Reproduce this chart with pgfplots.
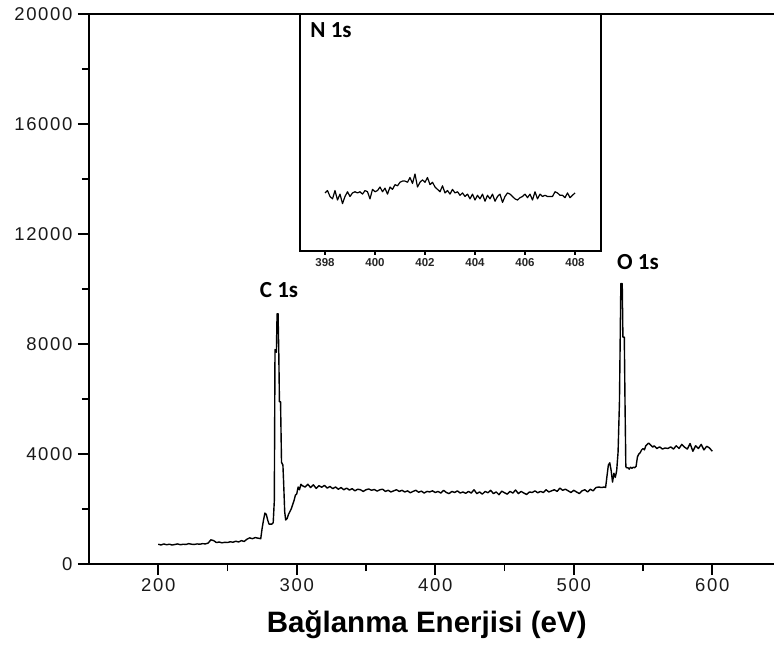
\documentclass[border=0pt]{standalone}
\usepackage{fontspec}
\setmainfont{Liberation Sans}
\newfontfamily\tickfont[LetterSpace=9]{Liberation Sans}
\newfontfamily\calfont{Carlito}
\usepackage{pgfplots}
\pgfplotsset{compat=1.18}
\begin{document}
\begin{tikzpicture}
\useasboundingbox (-89pt,-82pt) rectangle (685pt,564pt);
\begin{axis}[
  at={(0pt,0pt)}, anchor=south west, scale only axis,
  width=695pt, height=550pt,
  xmin=150, xmax=651.8, ymin=0, ymax=20000,
  axis line style={line width=1.8pt},
  every tick/.style={line width=1.8pt, black},
  major tick length=11pt, minor tick length=7pt,
  tick align=outside, xtick pos=bottom, ytick pos=left,
  xtick={200,300,...,600}, minor xtick={250,350,450,550},
  ytick={0,4000,...,20000}, minor ytick={2000,6000,...,18000},
  scaled y ticks=false,
  /pgf/number format/1000 sep={},
  /pgf/number format/assume math mode=true,
  ticklabel style={font=\tickfont\fontsize{18.5}{18.5}\selectfont, color=black!90},
  yticklabel style={xshift=-2pt},
  xlabel={Bağlanma Enerjisi (eV)},
  xlabel style={font=\bfseries\fontsize{29.5}{29.5}\selectfont, at={(axis description cs:0.486,0)}, anchor=center, yshift=-61pt},
]
\addplot[black, line width=1.4pt, line join=round] coordinates {
(200,720) (202,690) (204,730) (206,700) (208,720) (210,690) (212,710) (214,730) (216,700) (218,720)
(220,710) (222,740) (224,720) (226,710) (228,730) (230,720) (232,740) (234,730) (236,760) (238,880)
(240,850) (242,780) (244,800) (246,770) (248,790) (250,780) (252,810) (254,790) (256,830) (258,800)
(260,850) (262,820) (264,900) (266,950) (268,920) (270,960) (272,940) (274,920) (275,1300) (276,1600)
(277,1850) (278,1800) (279,1600) (280,1450) (281,1450) (282,1450) (283,1500) (283.8,2300) (284.3,7800)
(285.3,7700) (285.8,9100) (286.5,9100) (287,7800) (287.5,5900) (288.3,5900) (289,3700) (290,3600)
(290.5,3000) (291.3,1900) (292,1600) (293,1650) (294,1800) (295,1900) (296,2000) (297,2150) (298,2300)
(299,2500) (300,2550) (301,2800) (302,2700) (303,2900)
(304,2850) (306,2800) (308,2900) (310,2780) (312,2880) (314,2750) (316,2850) (318,2790) (320,2860) (322,2760)
(324,2820) (326,2740) (328,2800) (330,2720) (332,2780) (334,2700) (336,2760) (338,2690) (340,2740) (342,2660)
(344,2720) (346,2700) (348,2640) (350,2700) (352,2730) (354,2680) (356,2710) (358,2650) (360,2700) (362,2720)
(364,2640) (366,2680) (368,2620) (370,2660) (372,2700) (374,2640) (376,2680) (378,2620) (380,2660) (382,2590)
(384,2640) (386,2680) (388,2610) (390,2650) (392,2580) (394,2640) (396,2620) (398,2660) (400,2600) (402,2640)
(404,2580) (406,2680) (408,2600) (410,2560) (412,2640) (414,2600) (416,2660) (418,2580) (420,2620) (422,2570)
(424,2640) (426,2580) (428,2700) (430,2560) (432,2620) (434,2540) (436,2640) (438,2590) (440,2680) (442,2560)
(444,2620) (446,2520) (448,2650) (450,2590) (452,2540) (454,2640) (456,2580) (458,2690) (460,2560) (462,2640)
(464,2580) (466,2530) (468,2620) (470,2600) (472,2660) (474,2590) (476,2640) (478,2600) (480,2700) (482,2620)
(484,2660) (486,2700) (488,2640) (490,2760) (492,2680) (494,2720) (496,2660) (498,2600) (500,2680) (502,2620)
(504,2560) (506,2660) (508,2700) (510,2620) (512,2720) (514,2660) (516,2780) (518,2800) (520,2780) (522,2800)
(523,2780) (524,3200) (525,3600) (526,3680) (527,3400) (528,2980) (529,3300) (530,3150) (531,3400) (532,4070)
(533,5900) (534,10200) (535,10200) (535.5,8250) (536.5,8250) (537,5900) (537.6,3550) (538,3500) (539,3500)
(540,3450) (541,3520) (542,3480) (543,3520) (544,3500) (545,3550) (546,3900) (547,4000) (548,4050) (549,4150)
(550,4200) (551,4150) (552,4300) (553,4350) (554,4400) (555,4350) (556,4300) (557,4250) (558,4300) (560,4200)
(562,4260) (564,4180) (566,4220) (568,4200) (570,4260) (572,4180) (574,4300) (576,4200) (578,4350) (580,4250)
(582,4180) (584,4380) (586,4100) (588,4300) (590,4200) (592,4350) (594,4150) (596,4280) (598,4220) (600,4100)
};
\node[font=\calfont\bfseries\fontsize{23}{23}\selectfont] at (axis cs:287.2,9963) {C 1s};
\node[font=\calfont\bfseries\fontsize{23}{23}\selectfont] at (axis cs:546.4,10980) {O 1s};
\end{axis}
\begin{axis}[
  at={(211pt,313pt)}, anchor=south west, scale only axis,
  width=301pt, height=237pt,
  xmin=397, xmax=409.04, ymin=0, ymax=100,
  axis line style={line width=1.5pt},
  every tick/.style={line width=1.2pt, black},
  major tick length=4pt,
  tick align=outside, xtick pos=bottom, ytick=\empty,
  xtick={398,400,...,408},
  /pgf/number format/assume math mode=true,
  ticklabel style={font=\bfseries\fontsize{11.5}{11.5}\selectfont, color=black!85},
]
\addplot[black, line width=1.2pt, line join=round] coordinates {
(398.0,24.5) (398.1,25.5) (398.2,23) (398.3,22) (398.4,25.5) (398.5,21.5) (398.6,24) (398.7,20) (398.8,23) (398.9,25)
(399.0,23) (399.1,24.5) (399.2,25) (399.3,24.5) (399.4,25) (399.5,24) (399.6,25.5) (399.7,25) (399.8,22) (399.9,26)
(400.0,25) (400.1,25.5) (400.2,27) (400.3,25) (400.4,26.5) (400.5,24) (400.6,27) (400.7,26) (400.8,28) (400.9,27.5)
(401.0,29) (401.1,29.5) (401.2,29.5) (401.3,29) (401.4,31) (401.5,28.5) (401.6,32.5) (401.7,27) (401.8,29) (401.9,30)
(402.0,29) (402.1,31) (402.2,28) (402.3,29) (402.4,27) (402.5,26) (402.6,25) (402.7,27.5) (402.8,24.5) (402.9,25.5)
(403.0,24) (403.1,26) (403.2,24.5) (403.3,25) (403.4,23.5) (403.5,24.5) (403.6,23) (403.7,24) (403.8,22) (403.9,24)
(404.0,21.5) (404.1,23.5) (404.2,22) (404.3,24) (404.4,21) (404.5,23.5) (404.6,22) (404.7,24) (404.8,21) (404.9,23)
(405.0,24) (405.1,20.5) (405.2,23) (405.3,24.5) (405.4,24) (405.5,23) (405.6,22) (405.7,21.5) (405.8,22.5) (405.9,23)
(406.0,24) (406.1,22.5) (406.2,24) (406.3,21.5) (406.4,25) (406.5,22) (406.6,24) (406.7,23) (406.8,23.5) (406.9,23)
(407.0,23) (407.1,23) (407.2,25) (407.3,24.5) (407.4,23.5) (407.5,23.5) (407.6,22.5) (407.7,24.5) (407.8,22.5) (407.9,23.5)
(408.0,24.5)
};
\node[font=\calfont\bfseries\fontsize{23}{23}\selectfont] at (axis cs:398.24,93.2) {N 1s};
\end{axis}
\end{tikzpicture}
\end{document}
